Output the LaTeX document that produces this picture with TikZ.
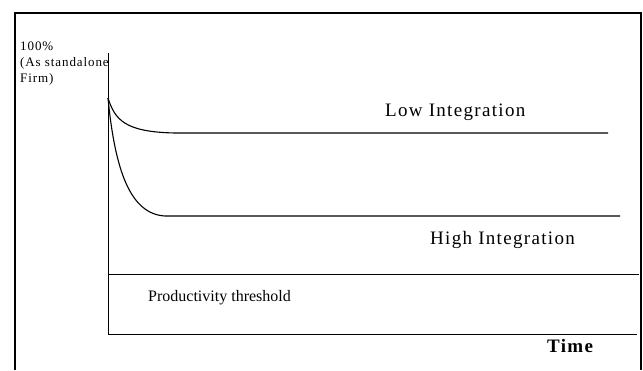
\documentclass[tikz,border=0pt]{standalone}
\usepackage{fontspec}
\setmainfont{Liberation Serif}
\newfontfamily\spaced[LetterSpace=7]{Liberation Serif}
\usepackage{tikz}

\begin{document}
\begin{tikzpicture}[x=1pt, y=-1pt,
  axisline/.style = {line width=1pt},
  curveline/.style = {line width=1.1pt},
  framebox/.style = {line width=2pt},
  lbl/.style = {inner sep=0pt, anchor=base west}]
\useasboundingbox (0,0) rectangle (643,370);
% frame
\coordinate (fbl) at (15,370);
\coordinate (ftl) at (15,13);
\coordinate (ftr) at (641,13);
\coordinate (fbr) at (641,370);
\draw[framebox] (fbl) -- (ftl) -- (ftr) -- (fbr);
% axes
\coordinate (ytop) at (108,53);
\coordinate (o) at (108,334);
\coordinate (xend) at (637,334);
\draw[axisline] (ytop) -- (o) -- (xend);
\coordinate (thl) at (108,274);
\coordinate (thr) at (639,274);
\draw[axisline] (thl) -- (thr);
% curves
\coordinate (start) at (108,98);
\coordinate (lowend) at (608,133);
\coordinate (highend) at (620,216);
\draw[curveline] (start) .. controls (115,120) and (125,132) .. (175,133) -- (lowend);
\draw[curveline] (start) .. controls (115,170) and (130,214) .. (165,216) -- (highend);
% labels
\node[inner sep=0pt, anchor=north west, align=left, font=\fontsize{13}{16}\spaced] (full) at (20,42) {100\%\\(As standalone\\Firm)};
\node[lbl, font=\fontsize{19}{22}\spaced] (low) at (385,116) {Low Integration};
\node[lbl, font=\fontsize{19}{22}\spaced] (high) at (430,244) {High Integration};
\node[lbl, font=\fontsize{16}{19}\selectfont] (thresh) at (148,301) {Productivity threshold};
\node[lbl, font=\fontsize{19}{22}\spaced\bfseries] (time) at (547,352.5) {Time};
\end{tikzpicture}
\end{document}
